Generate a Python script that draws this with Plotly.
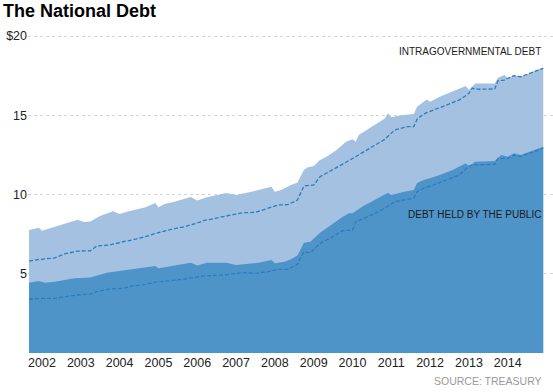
import plotly.graph_objects as go

# ---- data (trillions of dollars) ----
total_dates = ["2001-09", "2001-12", "2002-01", "2002-04", "2002-12", "2003-02", "2003-04",
               "2003-07", "2003-11", "2004-01", "2004-03", "2004-09", "2004-12", "2005-01",
               "2005-03", "2005-06", "2005-07", "2005-11", "2006-01", "2006-04", "2006-10",
               "2007-01", "2007-08", "2007-12", "2008-01", "2008-03", "2008-06", "2008-08",
               "2008-10", "2008-11", "2009-01", "2009-03", "2009-05", "2009-08", "2009-11",
               "2010-01", "2010-02", "2010-03", "2010-07", "2010-11", "2010-12", "2011-01",
               "2011-04", "2011-08", "2011-09", "2011-11", "2011-12", "2012-01", "2012-04",
               "2012-09", "2012-12", "2013-01", "2013-03", "2013-09", "2013-10", "2013-12",
               "2014-01", "2014-03", "2014-05", "2014-12"]
total_vals = [7.76, 7.9, 7.72, 7.9, 8.4, 8.27, 8.3,
              8.64, 8.95, 8.77, 8.9, 9.2, 9.46, 9.2,
              9.4, 9.55, 9.6, 9.84, 9.62, 9.82, 10.1,
              9.97, 10.28, 10.49, 10.18, 10.28, 10.6, 10.75,
              11.55, 11.7, 11.8, 12.18, 12.39, 12.8, 13.33,
              13.48, 13.33, 13.75, 14.28, 14.8, 15.12, 14.87,
              15.0, 15.08, 15.54, 15.86, 16.0, 15.86, 16.17,
              16.6, 16.85, 16.6, 17.0, 17.0, 17.37, 17.54,
              17.33, 17.54, 17.43, 18.02]

public_dates = ["2001-09", "2001-12", "2002-02", "2002-05", "2002-11", "2003-02", "2003-04",
                "2003-09", "2004-01", "2004-05", "2004-12", "2005-01", "2005-07", "2005-11",
                "2006-01", "2006-04", "2006-10", "2007-01", "2007-08", "2007-12", "2008-01",
                "2008-04", "2008-06", "2008-08", "2008-10", "2008-12", "2009-03", "2009-05",
                "2009-08", "2009-10", "2009-12", "2010-01", "2010-04", "2010-08", "2010-12",
                "2011-01", "2011-05", "2011-08", "2011-09", "2011-11", "2012-01", "2012-04",
                "2012-08", "2012-12", "2013-01", "2013-03", "2013-09", "2013-11", "2014-01",
                "2014-03", "2014-05", "2014-12"]
public_vals = [4.44, 4.54, 4.44, 4.5, 4.71, 4.75, 4.77,
               5.07, 5.19, 5.28, 5.49, 5.34, 5.55, 5.7,
               5.52, 5.7, 5.7, 5.55, 5.7, 5.87, 5.66,
               5.76, 5.91, 6.15, 6.96, 7.02, 7.59, 7.87,
               8.28, 8.6, 8.81, 8.81, 9.23, 9.65, 10.11,
               9.97, 10.18, 10.28, 10.72, 10.92, 11.02, 11.23,
               11.55, 11.97, 11.8, 12.07, 12.11, 12.49, 12.39,
               12.6, 12.49, 13.02]

total_nominal_dates = ["2001-09", "2001-12", "2002-05", "2002-08", "2002-12", "2003-04", "2003-06",
                       "2003-10", "2004-02", "2004-05", "2004-09", "2005-01", "2005-05", "2005-09",
                       "2006-01", "2006-03", "2006-09", "2007-03", "2007-07", "2007-11", "2008-02",
                       "2008-05", "2008-08", "2008-10", "2009-01", "2009-03", "2009-07", "2009-10",
                       "2009-12", "2010-02", "2010-07", "2010-11", "2011-02", "2011-06", "2011-08",
                       "2011-09", "2011-11", "2012-02", "2012-06", "2012-10", "2013-01", "2013-02",
                       "2013-04", "2013-09", "2013-10", "2013-12", "2014-01", "2014-03", "2014-05",
                       "2014-12"]
total_nominal_vals = [5.8, 5.9, 6.0, 6.25, 6.43, 6.45, 6.75,
                      6.81, 7.02, 7.13, 7.34, 7.6, 7.8, 7.97,
                      8.2, 8.35, 8.6, 8.85, 8.87, 9.13, 9.34,
                      9.36, 9.65, 10.54, 10.6, 11.12, 11.55, 11.92,
                      12.15, 12.39, 12.98, 13.48, 14.07, 14.28, 14.29,
                      14.75, 15.08, 15.33, 15.65, 15.96, 16.38, 16.7,
                      16.64, 16.66, 17.18, 17.22, 17.33, 17.5, 17.43,
                      17.96]

public_nominal_dates = ["2001-09", "2002-01", "2002-05", "2002-08", "2002-12", "2003-04", "2003-06",
                        "2003-10", "2004-02", "2004-05", "2004-09", "2005-01", "2005-05", "2005-09",
                        "2006-01", "2006-03", "2006-09", "2007-03", "2007-07", "2007-11", "2008-02",
                        "2008-05", "2008-08", "2008-10", "2008-12", "2009-03", "2009-07", "2009-10",
                        "2010-01", "2010-02", "2010-07", "2010-11", "2011-02", "2011-08", "2011-09",
                        "2011-11", "2012-02", "2012-06", "2012-10", "2013-01", "2013-02", "2013-09",
                        "2013-10", "2014-01", "2014-03", "2014-05", "2014-12"]
public_nominal_vals = [3.39, 3.45, 3.45, 3.55, 3.66, 3.72, 3.87,
                       4.04, 4.08, 4.23, 4.33, 4.5, 4.56, 4.67,
                       4.77, 4.86, 4.92, 5.07, 5.03, 5.13, 5.28,
                       5.28, 5.6, 6.39, 6.33, 6.92, 7.34, 7.72,
                       7.76, 8.28, 8.71, 9.13, 9.55, 9.76, 10.18,
                       10.39, 10.6, 10.92, 11.23, 11.8, 11.86, 11.9,
                       12.28, 12.28, 12.49, 12.39, 12.92]

y_tickvals = [5, 10, 15, 20]
y_ticktext = ["5", "10", "15", "$20"]

LIGHT = "#a5c1e1"
DARK = "#4f94c9"
DASH = "#2a7dbf"
FONT = "Liberation Sans"

L, T, B = 28, 30, 39
PW, PH = 553 - L, 392 - T - B


def px(xp):
    return (xp - L) / PW


def py(yp):
    return (392 - B - yp) / PH


fig = go.Figure()
fig.add_trace(go.Scatter(x=total_dates, y=total_vals, mode="lines", fill="tozeroy",
                         fillcolor=LIGHT, line=dict(width=0, color=LIGHT), hoverinfo="skip"))
fig.add_trace(go.Scatter(x=public_dates, y=public_vals, mode="lines", fill="tozeroy",
                         fillcolor=DARK, line=dict(width=0, color=DARK), hoverinfo="skip"))
fig.add_trace(go.Scatter(x=total_nominal_dates, y=total_nominal_vals, mode="lines",
                         line=dict(width=1.3, color=DASH, dash="4px,2px"), hoverinfo="skip"))
fig.add_trace(go.Scatter(x=public_nominal_dates, y=public_nominal_vals, mode="lines",
                         line=dict(width=1.3, color=DASH, dash="4px,2px"), hoverinfo="skip"))

fig.update_layout(
    width=553, height=392,
    margin=dict(l=L, r=0, t=T, b=B, autoexpand=False),
    paper_bgcolor="white", plot_bgcolor="white",
    showlegend=False,
    font=dict(family=FONT, color="#222222"),
    xaxis=dict(range=["2001-08-22", "2015-03-03"], type="date", automargin=False,
               tick0="2002-01-01", dtick="M12", tickformat="%Y",
               showgrid=False, zeroline=False, showline=False, ticks="",
               tickfont=dict(family=FONT, size=12.5, color="#222222")),
    yaxis=dict(range=[0, 20.38], tickvals=y_tickvals, ticktext=y_ticktext, automargin=False,
               showgrid=True, gridcolor="#d4d4d4", griddash="dot", gridwidth=1,
               zeroline=False, showline=False, ticks="",
               tickfont=dict(family=FONT, size=12.5, color="#222222")),
    annotations=[
        dict(text="<b>The National Debt</b>", xref="paper", yref="paper",
             x=px(1), y=py(11), xanchor="left", yanchor="middle", showarrow=False,
             font=dict(family=FONT, size=18, color="#000000")),
        dict(text="INTRAGOVERNMENTAL DEBT", xref="paper", yref="paper",
             x=px(543), y=py(51.5), xanchor="right", yanchor="middle",
             showarrow=False, font=dict(family=FONT, size=10, color="#1a1a1a")),
        dict(text="DEBT HELD BY THE PUBLIC", xref="paper", yref="paper",
             x=px(542.5), y=py(214), xanchor="right", yanchor="middle",
             showarrow=False, font=dict(family=FONT, size=10, color="#1a1a1a")),
        dict(text="SOURCE: TREASURY", xref="paper", yref="paper",
             x=px(543.5), y=py(381.5), xanchor="right", yanchor="middle",
             showarrow=False, font=dict(family=FONT, size=10.5, color="#999999")),
    ],
)

fig.write_html("out.html", config={"displayModeBar": False, "staticPlot": True},
               post_script="document.body.style.margin='0';document.body.style.padding='0';")
